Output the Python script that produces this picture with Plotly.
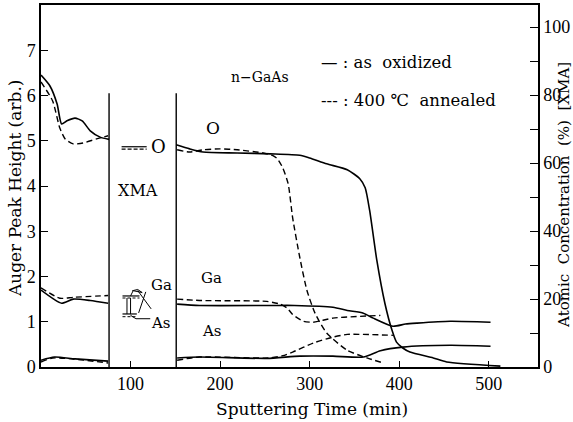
import plotly.graph_objects as go

# Sputtering time (min) and Auger peak heights (arb.). None marks the gap
# behind the XMA panel.
t_O_ox = [0, 10, 18, 23, 29, 38, 46, 55, 66, 76, None, 151, 166, 181, 219, 256, 289, 300, 319, 342,
          356, 362, 367, 375, 384, 392, 397, 404, 412, 438, 453, 513]
O_ox = [6.45, 6.21, 5.81, 5.37, 5.44, 5.50, 5.44, 5.22, 5.08, 5.03, None, 4.91, 4.82, 4.75, 4.73, 4.71,
        4.68, 4.62, 4.49, 4.36, 4.16, 3.96, 3.46, 2.36, 1.41, 0.81, 0.55, 0.42, 0.33, 0.20, 0.11, 0.02]

t_O_an = [0, 13, 21, 27, 36, 47, 62, 75, None, 152, 166, 181, 200, 219, 248, 259, 264, 270, 276, 281,
          289, 297, 306, 319, 342, 364, 382]
O_an = [6.30, 5.88, 5.28, 5.04, 4.93, 4.95, 5.04, 5.11, None, 4.80, 4.75, 4.80, 4.82, 4.80, 4.73, 4.67,
        4.60, 4.40, 4.05, 3.30, 2.42, 1.69, 1.19, 0.75, 0.37, 0.20, 0.09]

t_Ga_ox = [0, 23, 36, 55, 75, None, 152, 177, 256, 283, 326, 342, 360, 371, 393, 407, 420, 457, 502]
Ga_ox = [1.70, 1.41, 1.50, 1.47, 1.41, None, 1.39, 1.36, 1.36, 1.36, 1.32, 1.25, 1.19, 1.08, 0.90, 0.95,
         0.97, 1.01, 0.99]

t_Ga_an = [0, 21, 36, 75, None, 152, 177, 252, 267, 275, 281, 293, 304, 326, 379]
Ga_an = [1.75, 1.52, 1.54, 1.58, None, 1.50, 1.47, 1.45, 1.39, 1.30, 1.16, 1.01, 0.99, 1.08, 1.14]

t_As_ox = [0, 15, 38, 75, None, 152, 177, 252, 289, 326, 360, 379, 404, 457, 502]
As_ox = [0.15, 0.22, 0.18, 0.13, None, 0.20, 0.22, 0.19, 0.24, 0.24, 0.22, 0.36, 0.44, 0.48, 0.46]

t_As_an = [0, 13, 75, None, 152, 177, 256, 270, 281, 304, 326, 342, 393]
As_an = [0.11, 0.20, 0.09, None, 0.15, 0.22, 0.20, 0.25, 0.33, 0.53, 0.66, 0.72, 0.70]

# XMA atomic concentrations (%) shown inside the panel
xma_O = {"ox": 64.8, "an": 64.1}
xma_Ga = {"ox": 20.9, "an": 20.3}
xma_As = {"ox": 15.6, "an": 14.8}

# XMA panel extent (min) and its top (arb.)
xma_t0, xma_t1, xma_top = 76, 151, 6.05

x_ticks = [100, 200, 300, 400, 500]
y_ticks = [0, 1, 2, 3, 4, 5, 6, 7]
y2_ticks = list(range(0, 101, 10))
y2_text = [str(v) if v % 20 == 0 else "" for v in y2_ticks]

TICK_FONT = "Liberation Serif"
TEXT_FONT = "DejaVu Serif"
NB = "\u00a0"
SOLID = dict(color="black", width=1.6)
DASH = dict(color="black", width=1.4, dash="6px,3.5px")

fig = go.Figure()

for t, v, ln in [(t_O_ox, O_ox, SOLID), (t_O_an, O_an, DASH),
                 (t_Ga_ox, Ga_ox, SOLID), (t_Ga_an, Ga_an, DASH),
                 (t_As_ox, As_ox, SOLID), (t_As_an, As_an, DASH)]:
    fig.add_trace(go.Scatter(x=t, y=v, mode="lines", line=dict(shape="spline", smoothing=0.6, **ln),
                             connectgaps=False, showlegend=False, hoverinfo="skip"))

# XMA panel edges
for xe in (xma_t0, xma_t1):
    fig.add_shape(type="line", x0=xe, x1=xe, y0=0, y1=xma_top, xref="x", yref="y",
                  line=dict(color="black", width=1.4))

# XMA markers (right axis, %)
fig.add_trace(go.Scatter(x=[90, 118], y=[xma_O["ox"]] * 2, yaxis="y2", mode="lines",
                         line=dict(color="black", width=1.2), showlegend=False, hoverinfo="skip"))
fig.add_trace(go.Scatter(x=[90, 118], y=[xma_O["an"]] * 2, yaxis="y2", mode="lines",
                         line=dict(color="black", width=1.1, dash="4px,2px"), showlegend=False, hoverinfo="skip"))
for key, ln in (("ox", dict(color="black", width=1.2)), ("an", dict(color="black", width=1.0, dash="3px,2px"))):
    fig.add_trace(go.Scatter(x=[91, 110], y=[xma_Ga[key]] * 2, yaxis="y2", mode="lines",
                             line=ln, showlegend=False, hoverinfo="skip"))
    fig.add_trace(go.Scatter(x=[91, 107], y=[xma_As[key]] * 2, yaxis="y2", mode="lines",
                             line=ln, showlegend=False, hoverinfo="skip"))
for xv in (96, 100):
    fig.add_trace(go.Scatter(x=[xv, xv], y=[xma_Ga["an"], xma_As["ox"]], yaxis="y2", mode="lines",
                             line=dict(color="black", width=1.0), showlegend=False, hoverinfo="skip"))
# leader lines to the Ga / As labels
lead = dict(color="black", width=1.0)
ga_top = xma_Ga["ox"] + 1.6
fig.add_trace(go.Scatter(x=[100, 103, 108, 113, 102, None, 117, 109],
                         y=[xma_Ga["ox"], ga_top, ga_top + 0.3, ga_top - 0.6, ga_top, None,
                            ga_top - 0.4, xma_As["ox"] + 0.3],
                         yaxis="y2", mode="lines", line=lead, showlegend=False, hoverinfo="skip"))
fig.add_trace(go.Scatter(x=[108, 123], y=[ga_top, xma_As["ox"] + 1.5], yaxis="y2", mode="lines",
                         line=lead, showlegend=False, hoverinfo="skip"))
fig.add_trace(go.Scatter(x=[100, 106, 122], y=[xma_As["ox"] - 0.4, xma_As["ox"] - 1.4, xma_As["ox"] - 1.4],
                         yaxis="y2", mode="lines", line=lead, showlegend=False, hoverinfo="skip"))

ann = [
    dict(x=121, y=xma_O["ox"], yref="y2", text="O", font_size=18, xanchor="left"),
    dict(x=108, y=3.9, text="XMA", font_size=16),
    dict(x=121, y=24.0, yref="y2", text="Ga", font_size=15, xanchor="left"),
    dict(x=121, y=12.9, yref="y2", text="As", font_size=15, xanchor="left"),
    dict(x=192, y=5.28, text="O", font_size=17),
    dict(x=190, y=1.96, text="Ga", font_size=15),
    dict(x=191, y=0.79, text="As", font_size=15),
    dict(x=244, y=6.41, text="n−GaAs", font_size=14),
    dict(x=310, y=6.74, text=f"—{NB}:{NB}as{NB}{NB}oxidized", font_size=16.5, xanchor="left"),
    dict(x=310, y=5.90, text=f"---{NB}:{NB}400{NB}℃{NB}{NB}annealed", font_size=16.5, xanchor="left"),
    dict(x=-0.052, y=0.492, xref="paper", yref="paper", text="Auger Peak Height (arb.)",
         textangle=-90, font_size=17),
    dict(x=1.052, y=0.475, xref="paper", yref="paper",
         text=f"Atomic{NB}{NB}Concentration{NB}{NB}(%){NB}{NB}[XMA]",
         textangle=-90, font_size=15),
    dict(x=0.545, y=-0.115, xref="paper", yref="paper", text="Sputtering Time (min)", font_size=17),
]
for a in ann:
    a.setdefault("xref", "x")
    a.setdefault("yref", "y")
    a.setdefault("xanchor", "center")
    a.setdefault("yanchor", "middle")
    a["showarrow"] = False
    a["font"] = dict(family=TEXT_FONT, color="black", size=a.pop("font_size"))
    fig.add_annotation(**a)

axis_common = dict(showline=True, linecolor="black", linewidth=1.5, ticks="inside",
                   tickcolor="black", tickwidth=1.3, showgrid=False, zeroline=False,
                   tickfont=dict(family=TICK_FONT, size=18, color="black"))

fig.update_layout(
    width=573, height=422,
    margin=dict(l=41, r=35, t=3, b=55),
    paper_bgcolor="white", plot_bgcolor="white",
    xaxis=dict(range=[0, 555], tickvals=x_ticks, ticklen=6, mirror=True, **axis_common),
    yaxis=dict(range=[0, 8], tickvals=y_ticks, ticklen=7, **axis_common),
    yaxis2=dict(range=[0, 106.5], tickvals=y2_ticks, ticktext=y2_text, ticklen=8,
                overlaying="y", side="right", **axis_common),
)

fig.write_html("out.html")
